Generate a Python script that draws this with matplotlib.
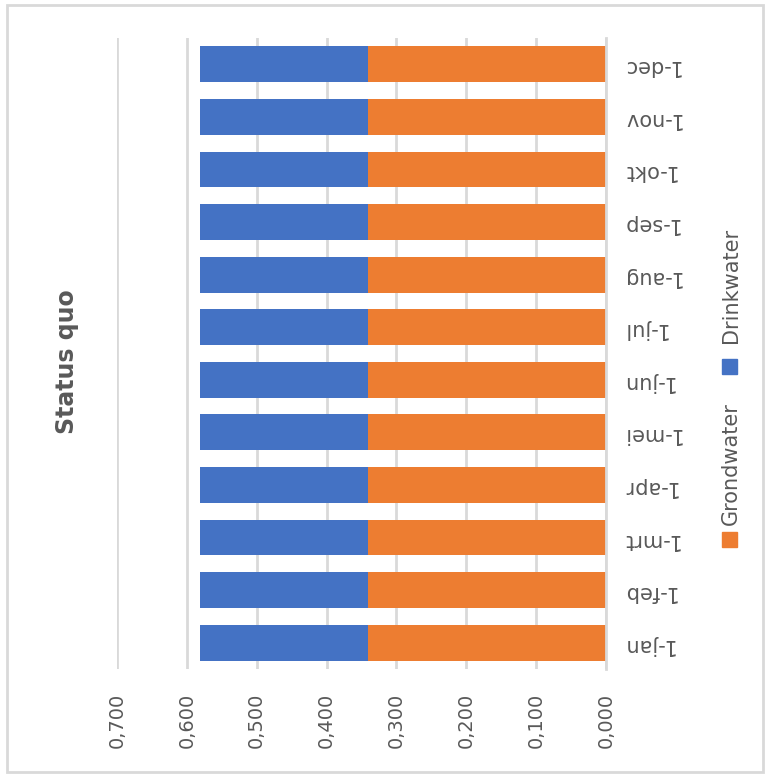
import matplotlib.pyplot as plt
from matplotlib.patches import Rectangle
from matplotlib.ticker import FuncFormatter, MultipleLocator

# data
maanden = ['1-jan', '1-feb', '1-mrt', '1-apr', '1-mei', '1-jun',
           '1-jul', '1-aug', '1-sep', '1-okt', '1-nov', '1-dec']
grondwater = [0.341, 0.341, 0.341, 0.341, 0.341, 0.341,
              0.341, 0.341, 0.341, 0.341, 0.341, 0.341]
drinkwater = [0.240, 0.240, 0.240, 0.240, 0.240, 0.240,
              0.240, 0.240, 0.240, 0.240, 0.240, 0.240]
titel = 'Status quo'

blauw = '#4472C4'
oranje = '#ED7D31'
grijs = '#595959'
lijn = '#D9D9D9'

W, H = 768, 776
fig = plt.figure(figsize=(W / 100, H / 100), dpi=100)
ax = fig.add_axes([117 / W, 1 - 669 / H, (606 - 117) / W, (669 - 38) / H])

pos = list(range(len(maanden)))
ax.barh(pos, grondwater, height=0.68, color=oranje, label='Grondwater')
ax.barh(pos, drinkwater, left=grondwater, height=0.68, color=blauw, label='Drinkwater')

ax.set_xlim(0.7, 0.0)
ax.set_ylim(-0.5, len(maanden) - 0.5)
ax.xaxis.set_major_locator(MultipleLocator(0.1))
ax.xaxis.set_major_formatter(FuncFormatter(lambda v, p: f'{v:.3f}'.replace('.', ',')))
ax.grid(axis='x', color=lijn, linewidth=2)
ax.set_axisbelow(True)

for s in ['top', 'bottom', 'left']:
    ax.spines[s].set_visible(False)
ax.spines['right'].set_color(lijn)
ax.spines['right'].set_linewidth(2)

ax.yaxis.tick_right()
ax.set_yticks(pos)
ax.set_yticklabels(maanden, rotation=180, color=grijs, fontsize=15)
ax.tick_params(axis='y', length=0, pad=11)
ax.tick_params(axis='x', length=0, pad=17, labelcolor=grijs, labelsize=14, labelrotation=90)

fig.text(67 / W, 1 - 362 / H, titel, rotation=90, ha='center', va='center',
         fontsize=17, fontweight='bold', color=grijs)

# legenda, gedraaid zoals de rest
for kleur, naam, y0, gat in [(oranje, 'Grondwater', 547, 22), (blauw, 'Drinkwater', 374, 31)]:
    fig.patches.append(Rectangle((722 / W, 1 - y0 / H), 15 / W, 15 / H,
                                 transform=fig.transFigure, color=kleur))
    fig.text(731 / W, 1 - (y0 - gat) / H, naam, rotation=90, ha='center', va='bottom',
             fontsize=15, color=grijs)

fig.patches.append(Rectangle((7 / W, 1 - 772 / H), 756 / W, 767 / H,
                             transform=fig.transFigure, fill=False,
                             edgecolor=lijn, linewidth=2))

fig.savefig('out.png', dpi=100)
